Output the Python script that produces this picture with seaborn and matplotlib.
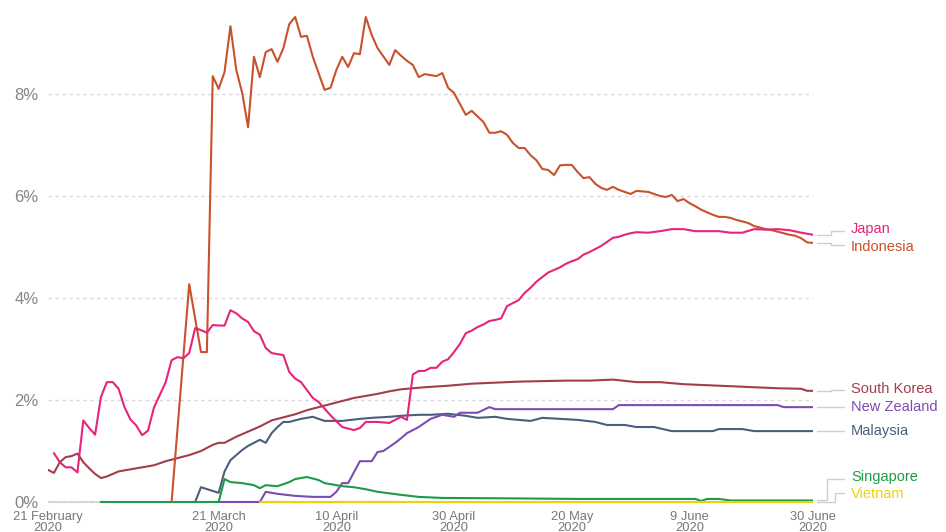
import pandas as pd
import matplotlib
matplotlib.use("Agg")
import matplotlib.pyplot as plt
import matplotlib.transforms as mtransforms
import seaborn as sns

# case fatality rate (%), days counted from 21 February 2020
start = pd.Timestamp("2020-02-21")

japan_days = [1, 2, 3, 4, 5, 6, 7, 8, 9, 10, 11, 12, 13, 14, 15, 16, 17, 18, 19, 20,
              21, 22, 23, 24, 25, 26, 27, 28, 29, 30, 31, 32, 33, 34, 35, 36, 37, 38,
              40, 41, 42, 43, 45, 46, 48, 50, 52, 53, 54, 56, 58, 60, 61,
              62, 63, 64, 65, 66, 67, 68, 69, 70, 71, 72, 73, 74, 75, 76, 77, 78, 79, 80,
              81, 82, 83, 84, 85, 86, 87, 88, 89, 90, 91, 92, 93, 94, 95, 96, 97, 98, 99, 100,
              102, 104, 106, 108, 110, 112, 114, 116, 118, 120, 122, 124, 126, 128, 129, 130]
japan_cfr = [0.96, 0.78, 0.68, 0.68, 0.58, 1.6, 1.45, 1.32, 2.06, 2.35, 2.35, 2.22, 1.86, 1.62, 1.5, 1.31, 1.4, 1.85, 2.1, 2.35,
             2.78, 2.84, 2.82, 2.92, 3.41, 3.37, 3.32, 3.47, 3.46, 3.46, 3.76, 3.7, 3.6, 3.53, 3.35, 3.28, 3.02, 2.92,
             2.88, 2.55, 2.42, 2.35, 2.04, 1.96, 1.7, 1.47, 1.41, 1.45, 1.57, 1.57, 1.55, 1.67, 1.61,
             2.5, 2.57, 2.57, 2.63, 2.63, 2.75, 2.8, 2.94, 3.1, 3.31, 3.36, 3.43, 3.48, 3.55, 3.57, 3.6, 3.84, 3.9, 3.96,
             4.1, 4.2, 4.32, 4.41, 4.5, 4.55, 4.6, 4.67, 4.72, 4.76, 4.85, 4.9, 4.96, 5.02, 5.1, 5.18, 5.2, 5.24, 5.27, 5.29,
             5.28, 5.31, 5.35, 5.35, 5.31, 5.31, 5.31, 5.28, 5.28, 5.35, 5.34, 5.35, 5.33, 5.28, 5.26, 5.24]

indonesia_days = [21, 24, 25, 26, 27, 28, 29, 30, 31, 32, 33, 34, 35, 36, 37, 38, 39, 40, 41, 42, 43, 44, 45,
                  47, 48, 49, 50, 51, 52, 53, 54, 55, 56, 58, 59, 60, 61, 62, 63, 64, 66, 67, 68, 69,
                  71, 72, 74, 75, 76, 77, 78, 79, 80, 81, 82, 83, 84, 85, 86, 87, 88, 89, 90, 91, 92,
                  93, 94, 95, 96, 97, 98, 99, 100, 102, 103, 104, 105, 106, 107, 108, 109, 110, 111,
                  112, 113, 114, 115, 116, 117, 118, 119, 120, 121, 122, 123, 124, 125, 126, 127,
                  128, 129, 130]
indonesia_cfr = [0, 4.27, 3.6, 2.94, 2.94, 8.35, 8.1, 8.43, 9.33, 8.47, 8.02, 7.35, 8.73, 8.33, 8.82, 8.88, 8.63, 8.9, 9.37, 9.51, 9.12, 9.14, 8.73,
                 8.08, 8.12, 8.47, 8.73, 8.53, 8.8, 8.78, 9.51, 9.16, 8.9, 8.57, 8.86, 8.75, 8.65, 8.57, 8.33, 8.39, 8.35, 8.41, 8.12, 8.02,
                 7.59, 7.67, 7.45, 7.24, 7.24, 7.27, 7.2, 7.04, 6.94, 6.94, 6.8, 6.7, 6.53, 6.51, 6.41, 6.6, 6.61, 6.61, 6.47, 6.35, 6.37,
                 6.24, 6.16, 6.12, 6.18, 6.12, 6.08, 6.04, 6.1, 6.08, 6.04, 6.0, 5.98, 6.02, 5.9, 5.94, 5.86, 5.8, 5.73,
                 5.68, 5.63, 5.59, 5.59, 5.57, 5.53, 5.5, 5.47, 5.41, 5.38, 5.35, 5.33, 5.3, 5.27, 5.24, 5.22,
                 5.17, 5.09, 5.08]

korea_days = [0, 1, 2, 3, 4, 5, 6, 7, 8, 9, 10, 11, 12, 14, 16, 18, 20, 22, 24, 26, 28, 29, 30,
              32, 34, 36, 38, 40, 42, 44, 46, 48, 50, 52, 54, 56, 58, 60,
              64, 68, 72, 76, 80, 84, 88, 92, 96, 100, 104, 108, 112, 116, 120, 124, 128, 129, 130]
korea_cfr = [0.63, 0.57, 0.78, 0.88, 0.9, 0.95, 0.78, 0.66, 0.55, 0.47, 0.5, 0.55, 0.6, 0.64, 0.68, 0.72, 0.8, 0.86, 0.92, 1.0, 1.12, 1.16, 1.16,
             1.28, 1.38, 1.48, 1.6, 1.66, 1.72, 1.8, 1.86, 1.92, 1.98, 2.04, 2.08, 2.12, 2.17, 2.21,
             2.25, 2.28, 2.32, 2.34, 2.36, 2.37, 2.38, 2.38, 2.4, 2.35, 2.35, 2.31, 2.29, 2.27, 2.25, 2.23, 2.22, 2.18, 2.18]

nz_days = [29, 36, 37, 39, 42, 45, 48, 49, 50, 51, 53, 55, 56, 57, 59, 60, 61, 63, 64, 65,
           67, 69, 70, 73, 75, 76, 96, 97, 124, 125, 130]
nz_cfr = [0, 0, 0.2, 0.16, 0.12, 0.1, 0.1, 0.2, 0.37, 0.37, 0.8, 0.8, 0.98, 1.0, 1.16, 1.25, 1.35, 1.47, 1.55, 1.63,
          1.71, 1.67, 1.75, 1.75, 1.86, 1.82, 1.82, 1.9, 1.9, 1.86, 1.86]

malaysia_days = [25, 26, 29, 30, 31, 33, 34, 35, 36, 37, 38, 39, 40, 41, 43, 45, 47, 50, 53, 55,
                 58, 60, 63, 65, 68, 71, 73, 76, 78, 82, 84, 87, 90, 93, 95, 98, 100, 103, 106, 113,
                 114, 118, 120, 130]
malaysia_cfr = [0, 0.29, 0.18, 0.6, 0.82, 1.02, 1.1, 1.16, 1.22, 1.16, 1.35, 1.47, 1.57, 1.57, 1.63, 1.67, 1.59, 1.59, 1.63, 1.65,
                1.67, 1.69, 1.71, 1.71, 1.73, 1.69, 1.65, 1.67, 1.63, 1.59, 1.65, 1.63, 1.61, 1.57, 1.51, 1.51, 1.47, 1.47, 1.39, 1.39,
                1.43, 1.43, 1.39, 1.39]

singapore_days = [9, 29, 30, 31, 33, 34, 35, 36, 37, 39, 41, 42, 44, 46, 47, 50, 52, 54, 56, 60,
                  63, 67, 80, 90, 110, 111, 112, 114, 116, 130]
singapore_cfr = [0, 0, 0.45, 0.39, 0.37, 0.35, 0.33, 0.27, 0.33, 0.31, 0.39, 0.45, 0.49, 0.43, 0.37, 0.31, 0.29, 0.25, 0.2, 0.14,
                 0.1, 0.08, 0.07, 0.06, 0.06, 0.02, 0.06, 0.06, 0.03, 0.03]

vietnam_days = [36, 130]
vietnam_cfr = [0, 0]

y_ticks = [0, 2, 4, 6, 8]
x_tick_days = [0, 29, 49, 69, 89, 109, 130]
x_tick_labels = ["21 February\n2020", "21 March\n2020", "10 April\n2020", "30 April\n2020",
                 "20 May\n2020", "9 June\n2020", "30 June\n2020"]

series = [
    ("South Korea", korea_days, korea_cfr),
    ("Malaysia", malaysia_days, malaysia_cfr),
    ("New Zealand", nz_days, nz_cfr),
    ("Singapore", singapore_days, singapore_cfr),
    ("Indonesia", indonesia_days, indonesia_cfr),
    ("Japan", japan_days, japan_cfr),
    ("Vietnam", vietnam_days, vietnam_cfr),
]

colors = {
    "Japan": "#e5247a",
    "Indonesia": "#c8522b",
    "South Korea": "#a33e4c",
    "New Zealand": "#7b4db0",
    "Malaysia": "#4b5f7c",
    "Singapore": "#1f9a48",
    "Vietnam": "#f0d20a",
}

# label placement: text y, leader end y, elbow x (axes fraction)
label_layout = {
    "Japan": (5.36, 5.32, 1.0235),
    "Indonesia": (5.0, 5.04, 1.0235),
    "South Korea": (2.22, 2.2, 1.0235),
    "New Zealand": (1.86, 1.86, 1.0235),
    "Malaysia": (1.39, 1.39, 1.0235),
    "Singapore": (0.49, 0.46, 1.0183),
    "Vietnam": (0.16, 0.17, 1.0288),
}

frames = []
for name, days, cfr in series:
    frames.append(pd.DataFrame({
        "country": name,
        "date": start + pd.to_timedelta(days, unit="D"),
        "cfr": cfr,
    }))
df = pd.concat(frames, ignore_index=True)

sns.set_theme(style="white")
plt.rcParams["font.family"] = ["Liberation Sans", "DejaVu Sans"]

fig = plt.figure(figsize=(9.46, 5.32), dpi=100)
ax = fig.add_axes([48 / 946, 0.0516, 765 / 946, 0.9443])

ax.grid(axis="y", color="#d9d9d9", linestyle=(0, (2.5, 2.5)), linewidth=1)
ax.axhline(0, color="#d3d3d3", linewidth=1.3, zorder=1.5)

sns.lineplot(data=df, x="date", y="cfr", hue="country",
             hue_order=[s[0] for s in series], palette=colors,
             estimator=None, linewidth=1.5, legend=False, ax=ax)

ax.set_xlim(start, start + pd.Timedelta(days=130))
ax.set_ylim(-0.05, 9.8)
ax.set_xlabel("")
ax.set_ylabel("")

ax.set_yticks(y_ticks)
ax.set_yticklabels([f"{t}%" for t in y_ticks])
ax.set_xticks(start + pd.to_timedelta(x_tick_days, unit="D"))
ax.set_xticklabels(x_tick_labels)
for t in ax.get_xticklabels():
    t.set_linespacing(0.8)

ax.tick_params(axis="x", length=3, color="#d0d0d0", labelcolor="#777777", labelsize=9.3, pad=2)
ax.tick_params(axis="y", length=0, pad=7, labelcolor="#858585", labelsize=12)
sns.despine(ax=ax, left=True, bottom=True)

# end labels with leader lines
trans = mtransforms.blended_transform_factory(ax.transAxes, ax.transData)
for name, days, cfr in series:
    text_y, lead_y, elbow = label_layout[name]
    end_val = cfr[-1]
    ax.plot([1.005, elbow, elbow, 1.041], [end_val, end_val, lead_y, lead_y],
            transform=trans, clip_on=False, color="#cfcfcf", linewidth=1)
    ax.text(1.0497, text_y, name, transform=trans, color=colors[name],
            ha="left", va="center", fontsize=10.5)

fig.savefig("out.png", dpi=100)
